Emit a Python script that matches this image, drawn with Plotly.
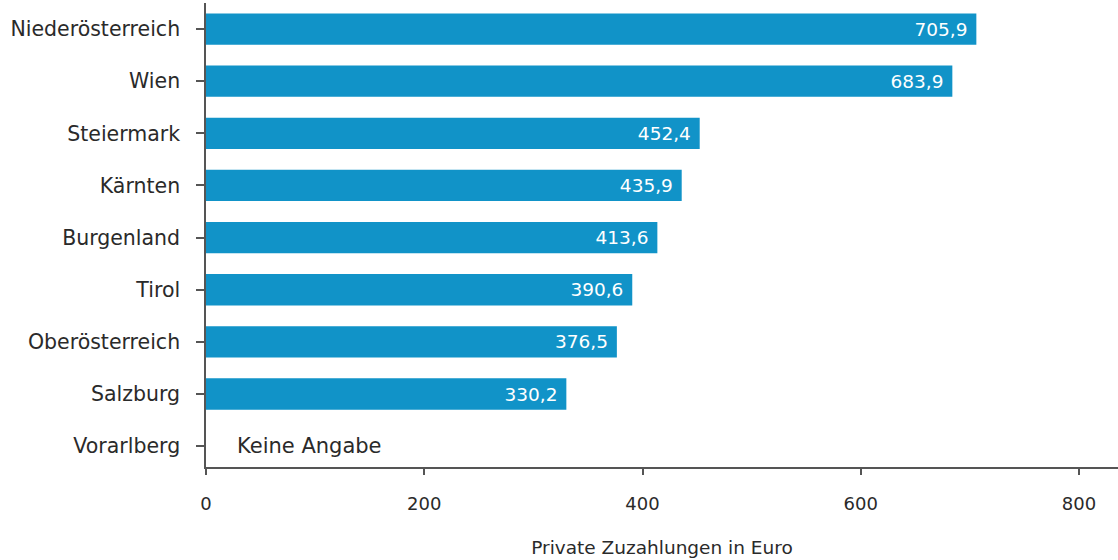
import plotly.graph_objects as go

regions = ["Niederösterreich", "Wien", "Steiermark", "Kärnten", "Burgenland",
           "Tirol", "Oberösterreich", "Salzburg", "Vorarlberg"]
values = [705.9, 683.9, 452.4, 435.9, 413.6, 390.6, 376.5, 330.2, None]
x_ticks = [0, 200, 400, 600, 800]
missing_note = "Keine Angabe"
x_title = "Private Zuzahlungen in Euro"

labels = [("" if v is None else f"{v:.1f}".replace(".", ",") + "\u00a0") for v in values]
FONT = "'DejaVu Sans', sans-serif"
AXIS = "#555555"
TXT = "#2a2a2a"

fig = go.Figure(go.Bar(
    y=regions, x=[0 if v is None else v for v in values], orientation="h",
    marker=dict(color="#1193c8", line=dict(width=0)),
    width=0.6,
    text=labels, textposition="inside", insidetextanchor="end",
    textfont=dict(color="white", size=18.5, family=FONT),
    hoverinfo="skip",
))

fig.add_annotation(x=27, y="Vorarlberg", xref="x", yref="y", text=missing_note,
                   showarrow=False, xanchor="left", yanchor="middle",
                   font=dict(size=21, color=TXT, family=FONT))

fig.update_layout(
    width=1118, height=560,
    margin=dict(l=206, r=0, t=3, b=93),
    plot_bgcolor="white", paper_bgcolor="white",
    showlegend=False,
    font=dict(family=FONT, color=TXT, size=18),
    uniformtext=dict(mode=False),
)
fig.update_xaxes(
    range=[0, 835.7], tickvals=x_ticks, ticktext=[str(t) for t in x_ticks],
    showgrid=False, zeroline=False,
    showline=True, linecolor=AXIS, linewidth=1.5,
    ticks="outside", ticklen=6, tickcolor=AXIS, tickwidth=1.5,
    ticklabelstandoff=14,
    tickfont=dict(size=18, color=TXT, family=FONT),
    title=dict(text=x_title, standoff=28, font=dict(size=18.5, color=TXT, family=FONT)),
)
fig.update_yaxes(
    categoryorder="array", categoryarray=regions,
    range=[8.4, -0.5],
    showgrid=False, zeroline=False,
    showline=True, linecolor=AXIS, linewidth=1.5,
    ticks="outside", ticklen=8, tickcolor=AXIS, tickwidth=1.5,
    ticklabelstandoff=12,
    tickfont=dict(size=20.5, color=TXT, family=FONT),
)

fig.write_html("out.html")
